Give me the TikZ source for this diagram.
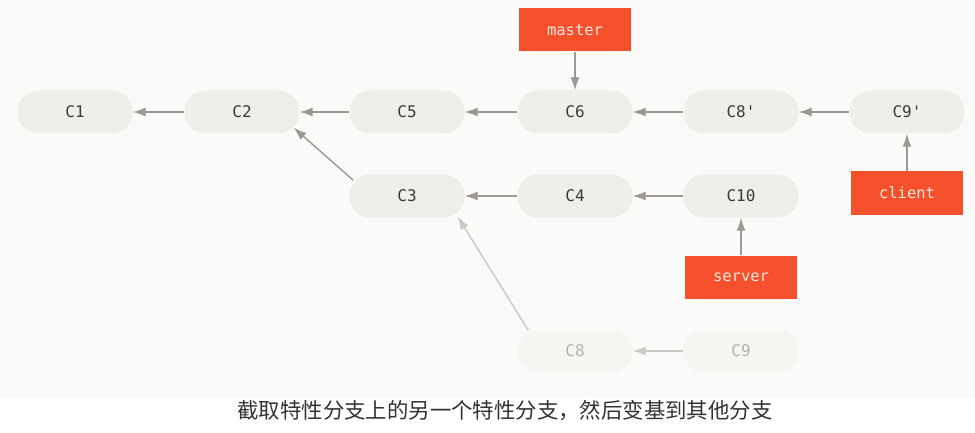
\documentclass[tikz,border=0pt]{standalone}
\usepackage{fontspec}
\setmonofont{DejaVu Sans Mono}
\newfontfamily\cjk{Noto Sans CJK SC}
\usetikzlibrary{arrows.meta}

\definecolor{pagebg}{HTML}{FAFAF8}
\definecolor{commitfill}{HTML}{EFEEE8}
\definecolor{fadefill}{HTML}{F5F5F1}
\definecolor{committext}{HTML}{3C3A36}
\definecolor{fadetext}{HTML}{B4B2AE}
\definecolor{linegray}{HTML}{9C9892}
\definecolor{fadeline}{HTML}{CBC9C4}
\definecolor{gitred}{HTML}{F4502B}
\definecolor{reftext}{HTML}{FBE6DE}
\definecolor{captiontext}{HTML}{333333}

\tikzset{
	commit/.style={rectangle, rounded corners=21pt, fill=commitfill, minimum width=115pt, minimum height=43pt, inner sep=0pt, font=\ttfamily\fontsize{16}{16}\selectfont, text=committext},
	fadecommit/.style={commit, fill=fadefill, text=fadetext},
	branch/.style={rectangle, fill=gitred, minimum width=112pt, minimum height=43pt, inner sep=0pt, font=\ttfamily\fontsize{15.5}{15.5}\selectfont, text=reftext},
	parent/.style={draw=linegray, line width=1.4pt, -{Latex[length=13pt,width=9pt]}},
	fadeparent/.style={parent, draw=fadeline},
}

\begin{document}
\begin{tikzpicture}[x=1pt, y=-1pt]

	\fill[white] (0,0) rectangle (975,433);
	\fill[pagebg] (0,0) rectangle (975,398);

	% main line
	\node[commit] (c1) at (75,112) {C1};
	\node[commit] (c2) at (242,112) {C2};
	\node[commit] (c5) at (407,112) {C5};
	\node[commit] (c6) at (575,112) {C6};
	\node[commit] (c8p) at (741,112) {C8'};
	\node[commit] (c9p) at (907,112) {C9'};

	% server line
	\node[commit] (c3) at (407,196) {C3};
	\node[commit] (c4) at (575,196) {C4};
	\node[commit] (c10) at (741,196) {C10};

	% old client commits
	\node[fadecommit] (c8) at (575,351) {C8};
	\node[fadecommit] (c9) at (741,351) {C9};

	% branches
	\node[branch] (master) at (575,30) {master};
	\node[branch] (client) at (907,193) {client};
	\node[branch] (server) at (741,277) {server};

	\draw[parent] (c2) -- (c1);
	\draw[parent] (c5) -- (c2);
	\draw[parent] (c6) -- (c5);
	\draw[parent] (c8p) -- (c6);
	\draw[parent] (c9p) -- (c8p);

	\draw[parent] ([shift={(4,6)}]c3.north west) -- ([shift={(-6,-6)}]c2.south east);
	\draw[parent] (c4) -- (c3);
	\draw[parent] (c10) -- (c4);

	\draw[fadeparent] ([shift={(11,1)}]c8.north west) -- ([shift={(-7,-1)}]c3.south east);
	\draw[fadeparent] (c9) -- (c8);

	\draw[parent] (master) -- (c6);
	\draw[parent] (client) -- (c9p);
	\draw[parent] (server) -- (c10);

	\node[font=\cjk\fontsize{21.4}{21.4}\selectfont, text=captiontext] (caption) at (505,411) {截取特性分支上的另一个特性分支，然后变基到其他分支};

\end{tikzpicture}
\end{document}
